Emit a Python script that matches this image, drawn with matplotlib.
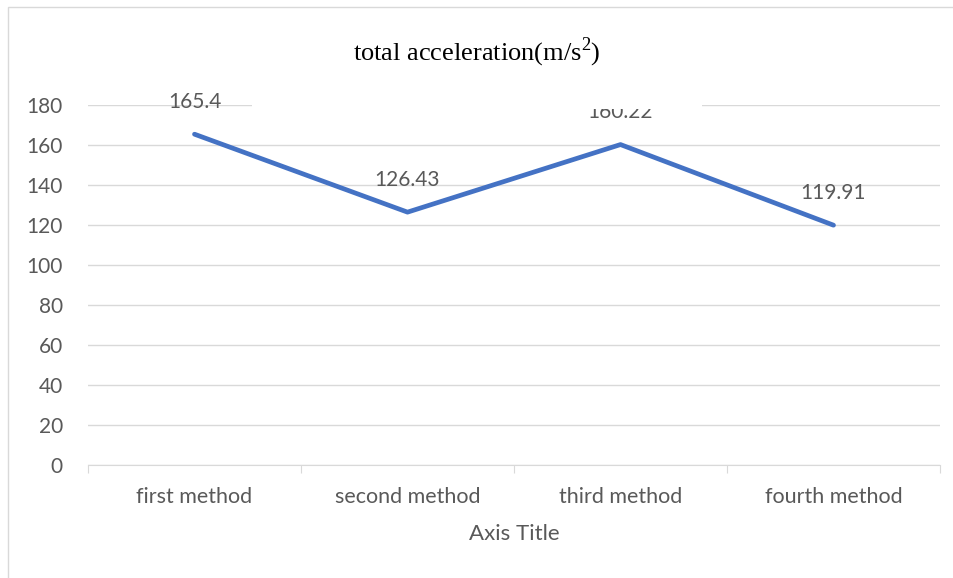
import matplotlib.pyplot as plt
from matplotlib.patches import Rectangle

plt.rcParams['mathtext.fontset'] = 'custom'
plt.rcParams['mathtext.rm'] = 'Liberation Serif'

methods = ['first method', 'second method', 'third method', 'fourth method']
accel = [165.4, 126.43, 160.22, 119.91]
accel_labels = ['165.4', '126.43', '160.22', '119.91']
yticks = [0, 20, 40, 60, 80, 100, 120, 140, 160, 180]

txt = '#595959'
grid = '#d9d9d9'
font = 'Lato'

fig = plt.figure(figsize=(9.54, 5.78), dpi=100)
W, H = 954, 578
ax = fig.add_axes([88 / W, (H - 465) / H, (940 - 88) / W, (465 - 105) / H])

xs = [i + 0.5 for i in range(len(methods))]
ax.plot(xs, accel, color='#4472C4', lw=3.4, solid_capstyle='round', zorder=3)
for x, v, lab in zip(xs, accel, accel_labels):
    ax.annotate(lab, (x, v), xytext=(0, 23.5), textcoords='offset points',
                ha='center', va='center', fontsize=15, color=txt, family=font)

ax.set_xlim(0, len(methods))
ax.set_ylim(0, 180)
ax.set_yticks(yticks)
ax.set_yticklabels([str(t) for t in yticks], fontsize=15, color=txt, family=font)
ax.yaxis.grid(True, color=grid, lw=1)
ax.tick_params(axis='y', length=0, pad=18)
ax.set_xticks(range(len(methods) + 1))
ax.set_xticklabels([])
ax.set_xticks(xs, minor=True)
ax.set_xticklabels(methods, minor=True, fontsize=15.5, color=txt, family=font)
ax.tick_params(axis='x', which='major', length=6, color=grid, direction='out')
ax.tick_params(axis='x', which='minor', length=0, pad=16)
for s in ['left', 'right', 'top']:
    ax.spines[s].set_visible(False)
ax.spines['bottom'].set_color(grid)
ax.set_axisbelow(True)
ax.set_xlabel('Axis Title', fontsize=16, color=txt, family=font, labelpad=12)

# chart frame
fig.patches.append(Rectangle((8 / W, -0.1), 1.2, 1 - 7 / H + 0.1, transform=fig.transFigure,
                             fill=False, edgecolor=grid, lw=1))
# pasted title box
fig.patches.append(Rectangle((252 / W, (H - 109) / H), (702 - 252) / W, 99 / H,
                             transform=fig.transFigure, facecolor='white',
                             edgecolor='none', zorder=10))
fig.text(477 / W, 1 - 52 / H, 'total acceleration(m/s$^2$)', ha='center', va='center',
         fontsize=19, family='Liberation Serif', color='black', zorder=11)

fig.savefig('out.png', dpi=100)
